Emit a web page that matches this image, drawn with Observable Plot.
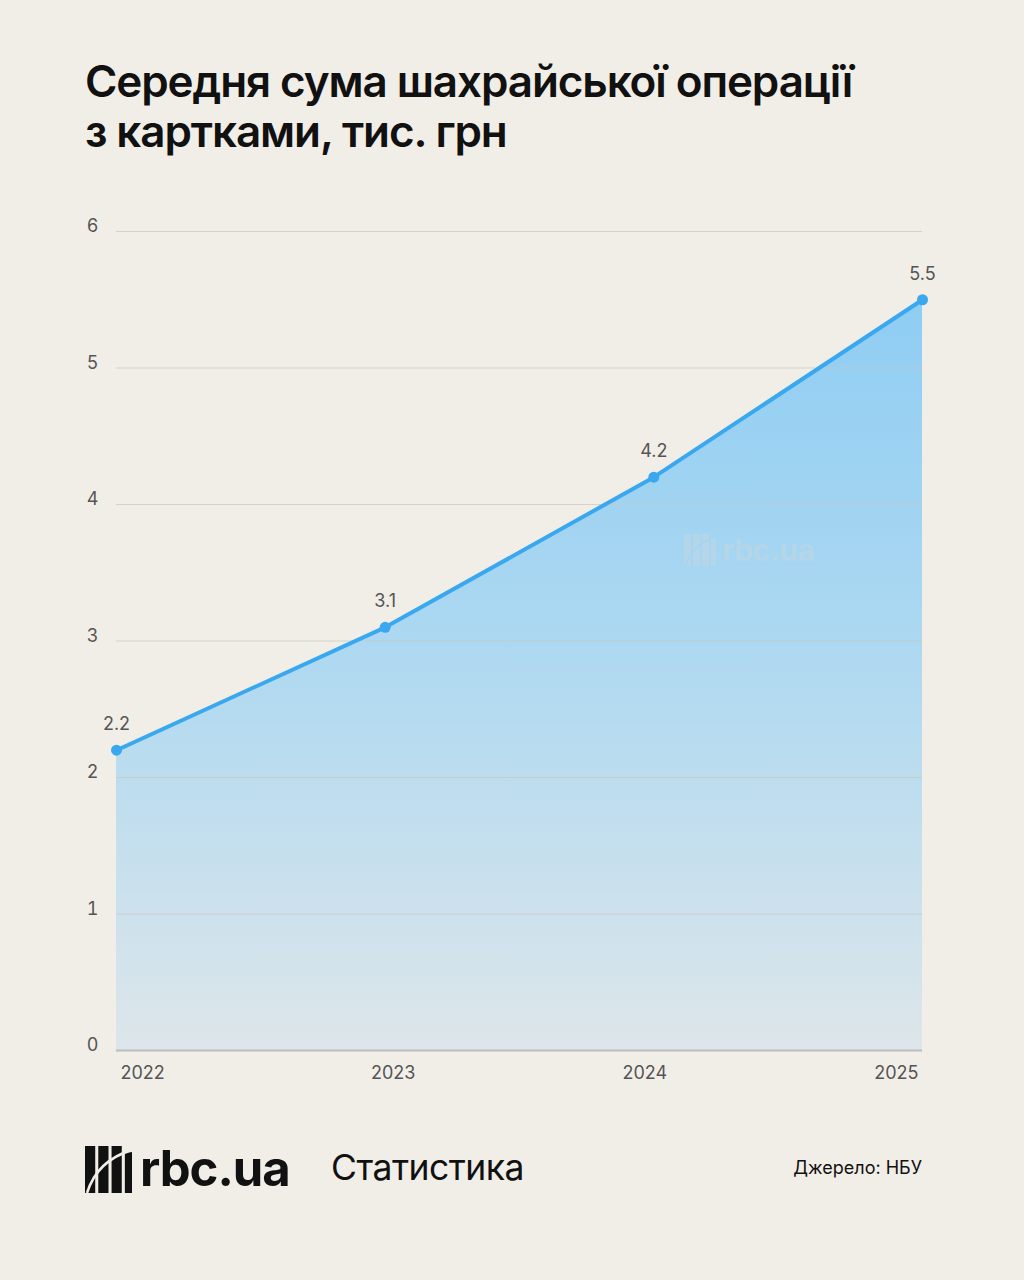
<!DOCTYPE html>
<html>
<head>
<meta charset="utf-8">
<script src="https://cdn.jsdelivr.net/npm/d3@7"></script>
<script src="https://cdn.jsdelivr.net/npm/@observablehq/plot@0.6"></script>
<style>
  html, body { margin: 0; padding: 0; }
  body { width: 1024px; height: 1280px; background: #f1eee8; position: relative; overflow: hidden; font-family: Inter, "Noto Sans", sans-serif; }
  #title { position: absolute; left: 85px; top: 56px; font-size: 44px; line-height: 50px; font-weight: 600; color: #111; letter-spacing: -1.1px; margin: 0; }
  #chart { position: absolute; left: 0; top: 200px; }
  #wm { position: absolute; left: 684px; top: 532px; display: flex; align-items: center; gap: 6px; opacity: 0.55; }
  #wm span { font-size: 30px; font-weight: 700; color: #c3d6e2; letter-spacing: -0.5px; }
  #footer-logo { position: absolute; left: 85px; top: 1145px; display: flex; align-items: center; gap: 8px; }
  #footer-logo span { font-size: 49px; font-weight: 700; color: #111; letter-spacing: -1px; line-height: 48px; }
  #section { position: absolute; left: 331px; top: 1148px; font-size: 35.5px; font-weight: 400; color: #111; letter-spacing: -0.5px; line-height: 40px; }
  #source { position: absolute; right: 102px; top: 1157px; font-size: 18px; color: #111; line-height: 22px; }
</style>
</head>
<body>
<h1 id="title">Середня сума шахрайської операції<br>з картками, тис. грн</h1>
<div id="chart"></div>
<div id="wm">
  <svg width="32" height="32" viewBox="0 0 46 46"><rect x="0" y="0" width="10" height="46" fill="#c3d6e2"/><rect x="13" y="0" width="10" height="46" fill="#c3d6e2"/><rect x="26" y="0" width="10" height="46" fill="#c3d6e2"/><rect x="39" y="6" width="7" height="40" fill="#c3d6e2"/><path d="M2 46 Q 12 14 46 4" stroke="#a8d4ef" stroke-width="2.5" fill="none"/></svg>
  <span>rbc.ua</span>
</div>
<div id="footer-logo">
  <svg width="47" height="47" viewBox="0 0 46 46"><rect x="0" y="0" width="10" height="46" fill="#111"/><rect x="13" y="0" width="10" height="46" fill="#111"/><rect x="26" y="0" width="10" height="46" fill="#111"/><rect x="39" y="6" width="7" height="40" fill="#111"/><path d="M2 46 Q 12 14 46 4" stroke="#f1eee8" stroke-width="2.5" fill="none"/></svg>
  <span>rbc.ua</span>
</div>
<div id="section">Статистика</div>
<div id="source">Джерело: НБУ</div>
<script>
const years = [2022, 2023, 2024, 2025];
const values = [2.2, 3.1, 4.2, 5.5];
const yTicks = [0, 1, 2, 3, 4, 5, 6];
const data = years.map((year, i) => ({year, value: values[i]}));

const gradient = () => {
  const ns = "http://www.w3.org/2000/svg";
  const defs = document.createElementNS(ns, "defs");
  const lg = document.createElementNS(ns, "linearGradient");
  lg.setAttribute("id", "areaGrad");
  lg.setAttribute("x1", "0"); lg.setAttribute("y1", "0");
  lg.setAttribute("x2", "0"); lg.setAttribute("y2", "1");
  [["0%", "#8fcdf3"], ["45%", "#acd8f1"], ["100%", "#dde6ea"]].forEach(([o, c]) => {
    const s = document.createElementNS(ns, "stop");
    s.setAttribute("offset", o); s.setAttribute("stop-color", c);
    lg.appendChild(s);
  });
  defs.appendChild(lg);
  return defs;
};

const plot = Plot.plot({
  width: 1024,
  height: 900,
  marginTop: 31,
  marginBottom: 50,
  marginLeft: 116,
  marginRight: 102,
  style: {background: "transparent", fontFamily: "Inter, 'Noto Sans', sans-serif"},
  x: {type: "linear", domain: [2022, 2025], axis: null},
  y: {domain: [0, 6], axis: null},
  marks: [
    gradient,
    Plot.areaY(data, {x: "year", y: "value", fill: "url(#areaGrad)"}),
    Plot.gridY(yTicks.filter(d => d > 0), {stroke: "#c9c6c0", strokeOpacity: 0.7, strokeWidth: 1}),
    Plot.ruleY([0], {stroke: "#bcbcbc", strokeWidth: 2}),
    Plot.axisY(yTicks, {tickSize: 0, tickPadding: 18, fontSize: 18, fill: "#555", dy: -5, label: null, tickFormat: d => String(d)}),
    Plot.lineY(data, {x: "year", y: "value", stroke: "#3aa8ee", strokeWidth: 4}),
    Plot.dot(data, {x: "year", y: "value", r: 5.5, fill: "#3aa8ee"}),
    Plot.text(data, {x: "year", y: "value", text: d => d.value.toFixed(1), dy: -26, fontSize: 18, fill: "#555"}),
    Plot.text(years.slice(0, 1), {x: d => d, frameAnchor: "bottom", text: d => String(d), textAnchor: "start", dx: 4, dy: 28, fontSize: 18, fill: "#555"}),
    Plot.text(years.slice(1, 2), {x: d => d, frameAnchor: "bottom", text: d => String(d), dx: 8, dy: 28, fontSize: 18, fill: "#555"}),
    Plot.text(years.slice(2, 3), {x: d => d, frameAnchor: "bottom", text: d => String(d), dx: -9, dy: 28, fontSize: 18, fill: "#555"}),
    Plot.text(years.slice(3), {x: d => d, frameAnchor: "bottom", text: d => String(d), textAnchor: "end", dx: -4, dy: 28, fontSize: 18, fill: "#555"})
  ]
});
document.getElementById("chart").appendChild(plot);
</script>
</body>
</html>
